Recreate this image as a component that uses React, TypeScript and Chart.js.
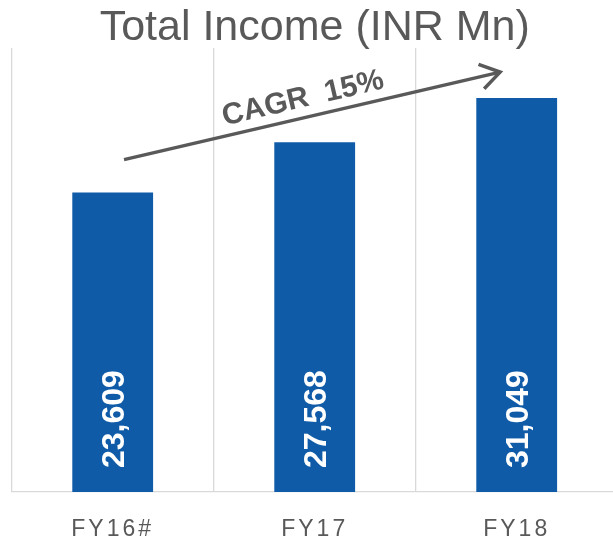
import React, { useEffect, useRef } from "react";
import { Chart, registerables } from "chart.js";

Chart.register(...registerables);

// ---- data ----
const categories = ["FY16#", "FY17", "FY18"];
const totalIncome = [23609, 27568, 31049];
const axisMax = 35000;
const chartTitle = "Total Income (INR Mn)";
const cagrText = "CAGR  15%";
// arrow anchors in data space: [category index, value]
const arrowFrom = [0.056, 26200];
const arrowTo = [1.918, 33100];

const GREY = "#595959";
const BLUE = "#0F5BA8";
const GRID = "#D9D9D9";
const FONT = "'Liberation Sans', Arial, sans-serif";

const overlay = {
  id: "overlay",
  beforeDraw(chart: any) {
    chart.ctx.letterSpacing = "3px";
  },
  beforeDatasetsDraw(chart: any) {
    chart.ctx.letterSpacing = "0px";
  },
  afterDatasetsDraw(chart: any) {
    const { ctx, chartArea, scales } = chart;
    const xs = scales.x;
    const ys = scales.y;
    ctx.save();
    ctx.letterSpacing = "0px";

    // title
    ctx.fillStyle = GREY;
    ctx.font = `43px ${FONT}`;
    ctx.textAlign = "center";
    ctx.textBaseline = "alphabetic";
    ctx.fillText(chartTitle, (chartArea.left + chartArea.right) / 2, 39.5);

    // value labels (rotated, inside bars)
    const meta = chart.getDatasetMeta(0);
    ctx.font = `bold 32px ${FONT}`;
    ctx.fillStyle = "#FFFFFF";
    meta.data.forEach((bar: any, i: number) => {
      ctx.save();
      ctx.translate(bar.x + 11.5, bar.base - 24);
      ctx.rotate(-Math.PI / 2);
      ctx.textAlign = "left";
      ctx.fillText(totalIncome[i].toLocaleString("en-US"), 0, 0);
      ctx.restore();
    });

    // CAGR arrow
    const x1 = xs.getPixelForValue(arrowFrom[0]);
    const y1 = ys.getPixelForValue(arrowFrom[1]);
    const x2 = xs.getPixelForValue(arrowTo[0]);
    const y2 = ys.getPixelForValue(arrowTo[1]);
    const ang = Math.atan2(y2 - y1, x2 - x1);
    ctx.strokeStyle = GREY;
    ctx.lineWidth = 3.5;
    ctx.lineCap = "butt";
    ctx.lineJoin = "miter";
    ctx.beginPath();
    ctx.moveTo(x1, y1);
    ctx.lineTo(x2, y2);
    ctx.stroke();
    const head = 23;
    const spread = (33 * Math.PI) / 180;
    ctx.beginPath();
    ctx.moveTo(x2 - head * Math.cos(ang - spread), y2 - head * Math.sin(ang - spread));
    ctx.lineTo(x2, y2);
    ctx.lineTo(x2 - head * Math.cos(ang + spread), y2 - head * Math.sin(ang + spread));
    ctx.stroke();

    // CAGR text, parallel to arrow
    const t = 0.487;
    const cx = x1 + (x2 - x1) * t;
    const cy = y1 + (y2 - y1) * t;
    ctx.save();
    ctx.translate(cx, cy);
    ctx.rotate(ang);
    ctx.font = `bold 30px ${FONT}`;
    ctx.fillStyle = GREY;
    ctx.textAlign = "center";
    ctx.textBaseline = "alphabetic";
    ctx.fillText(cagrText, 0, -10.5);
    ctx.restore();

    ctx.restore();
  },
};

export default function App() {
  const canvasRef = useRef<HTMLCanvasElement | null>(null);

  useEffect(() => {
    const canvas = canvasRef.current;
    if (!canvas) return;
    const chart = new Chart(canvas, {
      type: "bar",
      data: {
        labels: categories,
        datasets: [
          {
            label: "Total Income",
            data: totalIncome,
            backgroundColor: BLUE,
            borderWidth: 0,
            categoryPercentage: 1,
            barPercentage: 0.4,
          },
        ],
      },
      options: {
        responsive: false,
        animation: false,
        devicePixelRatio: 1,
        layout: { padding: { left: 11.7, right: 12.3, top: 48, bottom: 4.4 } },
        plugins: {
          legend: { display: false },
          title: { display: false },
          tooltip: { enabled: false },
        },
        scales: {
          x: {
            type: "category",
            offset: true,
            afterFit: (scale: any) => {
              scale.height = 49.6;
            },
            grid: {
              display: true,
              offset: true,
              color: GRID,
              lineWidth: 1.3,
              drawTicks: false,
            },
            border: { display: true, color: GRID, width: 1.3 },
            ticks: {
              color: GREY,
              font: { family: FONT, size: 23 },
              padding: 24,
              maxRotation: 0,
            },
          },
          y: {
            display: false,
            min: 0,
            max: axisMax,
          },
        },
      },
      plugins: [overlay],
    });
    return () => chart.destroy();
  }, []);

  return (
    <div
      style={{
        position: "fixed",
        left: 0,
        top: 0,
        width: 613,
        height: 546,
        overflow: "hidden",
        background: "#FFFFFF",
      }}
    >
      <canvas ref={canvasRef} width={630} height={546} style={{ display: "block" }} />
    </div>
  );
}
